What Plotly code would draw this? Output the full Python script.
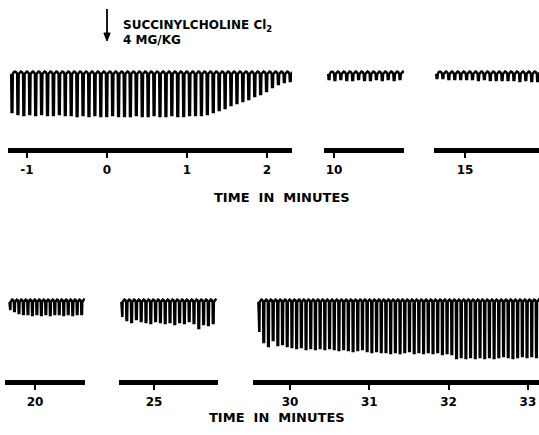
import plotly.graph_objects as go

W, H = 539, 435

# ---------------- data ----------------
# twitch amplitudes (downward pen deflection, arbitrary units) for each recording segment
seg1_amp = [38, 40, 41, 40, 41, 40, 41, 41, 40, 41, 41, 42, 41, 42, 41, 42, 42, 41,
            42, 42, 42, 41, 42, 42, 41, 42, 42, 41, 42, 42, 41, 41, 41, 40,
            38, 36, 34, 31, 29, 27, 25, 22, 20, 17, 13, 10, 8, 7]
seg10_amp = [5, 6, 5, 6, 6, 5, 6, 6, 5, 6, 5, 6, 5]
seg15_amp = [4, 4, 5, 5, 5, 5, 5, 6, 5, 6, 6, 6, 6, 6, 7, 6, 7, 7]
seg20_amp = [8, 9, 11, 12, 12, 13, 12, 13, 12, 13, 12, 12, 13, 12, 13, 12, 12]
seg25_amp = [15, 18, 20, 17, 19, 20, 21, 19, 20, 21, 20, 22, 20, 21, 19, 21, 26, 22, 23, 21]
seg30_amp = [30, 40, 44, 38, 43, 42, 44,
             45, 46, 45, 47, 46, 47, 46, 47, 46, 47,
             48, 47, 48, 49, 48, 47, 49, 50, 49, 50,
             50, 51, 50, 51, 50, 49, 51, 50, 51, 50,
             51, 50, 52, 51, 52, 56, 55, 56, 55, 56,
             55, 56, 55, 56, 55, 54, 55, 56, 55, 54, 55, 54, 55]

# time of first twitch (min) and twitch interval (min) for each segment
seg_start = [-1.1875, 9.9375, 14.65, 19.6875, 24.6, 29.609]
seg_interval = [0.074, 0.074, 0.074, 0.056, 0.06, 0.0593]

# tick values / labels (minutes)
seg1_ticks = [-1, 0, 1, 2]
seg10_ticks = [10]
seg15_ticks = [15]
seg20_ticks = [20]
seg25_ticks = [25]
seg30_ticks = [30, 31, 32, 33]

amps = [seg1_amp, seg10_amp, seg15_amp, seg20_amp, seg25_amp, seg30_amp]
ticks = [seg1_ticks, seg10_ticks, seg15_ticks, seg20_ticks, seg25_ticks, seg30_ticks]

# ---------------- layout geometry ----------------
# x domains in pixels, axis ranges in minutes
x_dom_px = [(8, 292), (324, 404), (434, 539), (5, 85), (119, 218), (253, 539)]
x_range = [(-1.2375, 2.3125), (9.875, 10.875), (14.6125, 15.925),
           (19.625, 20.625), (24.5625, 25.8), (29.533, 33.14)]
row = [0, 0, 0, 1, 1, 1]
y_dom_px = [(55, 148), (285, 380)]
y_range = [(-74, 19), (-78, 17)]


def px2x(p):
    return p / W


def px2y(p):
    return 1 - p / H


def twitch_trace(t0, dt, amp):
    """Pen trace of a twitch recording: a sharp downward deflection per twitch."""
    xs, ys = [], []
    for i, a in enumerate(amp):
        t = t0 + i * dt
        xs += [t - 0.13 * dt, t - 0.07 * dt, t + 0.07 * dt, t + 0.13 * dt,
               t + 0.3 * dt, t + 0.5 * dt, t + 0.7 * dt]
        ys += [0, -a, -a, 0, 1.8, 2.4, 1.8]
    return xs, ys


fig = go.Figure()
FONT = "DejaVu Sans"

layout = dict(
    width=W, height=H, margin=dict(l=0, r=0, t=0, b=0),
    paper_bgcolor="white", plot_bgcolor="white", showlegend=False,
)

for k in range(6):
    n = "" if k == 0 else str(k + 1)
    xs, ys = twitch_trace(seg_start[k], seg_interval[k], amps[k])
    fig.add_trace(go.Scatter(x=xs, y=ys, mode="lines",
                             line=dict(color="black", width=2.5),
                             xaxis="x" + n, yaxis="y" + n, hoverinfo="skip"))
    r = row[k]
    layout["xaxis" + n] = dict(
        domain=[px2x(x_dom_px[k][0]), px2x(x_dom_px[k][1])],
        range=list(x_range[k]), anchor="y" + n,
        showgrid=False, zeroline=False,
        showline=True, linecolor="black", linewidth=5,
        ticks="outside", ticklen=5, tickwidth=2, tickcolor="black",
        tickvals=ticks[k], ticktext=[str(v) for v in ticks[k]],
        tickfont=dict(family=FONT, size=12, color="black", weight="bold"),
        ticklabelstandoff=2,
        fixedrange=True,
    )
    layout["yaxis" + n] = dict(
        domain=[px2y(y_dom_px[r][1]), px2y(y_dom_px[r][0])],
        range=list(y_range[r]), anchor="x" + n,
        visible=False, fixedrange=True,
    )

annotations = [
    dict(text="TIME  IN  MINUTES", xref="paper", yref="paper",
         x=px2x(282), y=px2y(197), showarrow=False,
         font=dict(family=FONT, size=13, color="black", weight="bold")),
    dict(text="TIME  IN  MINUTES", xref="paper", yref="paper",
         x=px2x(277), y=px2y(427), showarrow=False,
         font=dict(family=FONT, size=13, color="black", weight="bold")),
    dict(text="SUCCINYLCHOLINE Cl<sub>2</sub>", xref="paper", yref="paper",
         x=px2x(121), y=px2y(16), xanchor="left", showarrow=False,
         font=dict(family=FONT, size=12, color="black", weight="bold")),
    dict(text="4 MG/KG", xref="paper", yref="paper",
         x=px2x(121), y=px2y(31), xanchor="left", showarrow=False,
         font=dict(family=FONT, size=12, color="black", weight="bold")),
]
layout["annotations"] = annotations
# injection arrow at time 0 (drawn as a line shape plus a small arrow head)
layout["shapes"] = [
    dict(type="line", xref="x", yref="paper", x0=0, x1=0,
         y0=px2y(9), y1=px2y(38), line=dict(color="black", width=1.8)),
    dict(type="path", xref="paper", yref="paper",
         path="M {a},{b} L {c},{d} L {e},{b} Z".format(
             a=px2x(103.9), b=px2y(33), c=px2x(107), d=px2y(41), e=px2x(110.1)),
         fillcolor="black", line=dict(color="black", width=1)),
]
fig.update_layout(**layout)

fig.write_html("out.html", config={"displayModeBar": False})

# remove the browser's default page margin so the figure fills the window exactly
with open("out.html", encoding="utf-8") as f:
    html = f.read()
html = html.replace("<head>", "<head><style>html,body{margin:0;padding:0;overflow:hidden;}</style>", 1)
with open("out.html", "w", encoding="utf-8") as f:
    f.write(html)
